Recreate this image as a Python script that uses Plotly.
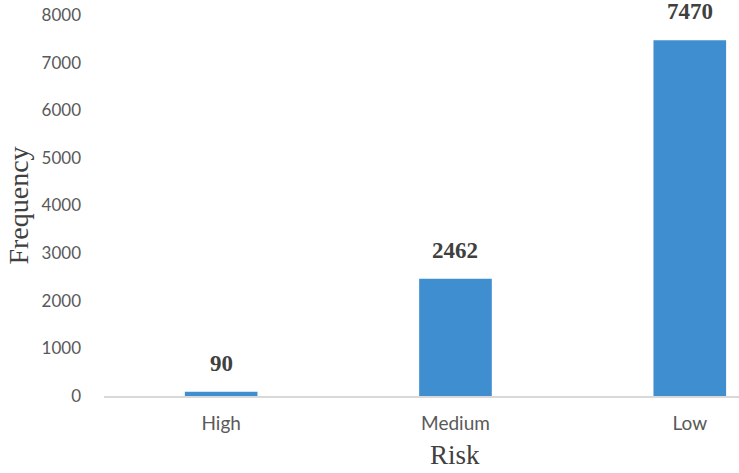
import plotly.graph_objects as go

categories = ["High", "Medium", "Low"]
frequency = [90, 2462, 7470]
y_ticks = [0, 1000, 2000, 3000, 4000, 5000, 6000, 7000, 8000]

fig = go.Figure(
    go.Bar(
        x=categories,
        y=frequency,
        width=0.31,
        marker=dict(color="#3F8FD0", line=dict(width=0)),
        hoverinfo="x+y",
    )
)

for c, v in zip(categories, frequency):
    fig.add_annotation(
        x=c, y=v, xref="x", yref="y",
        text=f"<b>{v}</b>",
        showarrow=False,
        yanchor="bottom",
        yshift=14,
        font=dict(family="Liberation Serif", size=23, color="#404040"),
    )

# x-axis title centred on the full category band (as in the cropped original)
fig.add_annotation(
    x=categories[1], y=0, xref="x", yref="paper",
    text="Risk", showarrow=False,
    yanchor="bottom", yshift=-76,
    font=dict(family="Liberation Serif", size=27, color="#404040"),
)

fig.update_layout(
    width=739,
    height=473,
    margin=dict(l=104, r=0, t=15, b=77),
    plot_bgcolor="white",
    paper_bgcolor="white",
    showlegend=False,
    xaxis=dict(
        range=[-0.5, 2.21],
        showgrid=False,
        showline=True,
        linecolor="#d9d9d9",
        linewidth=1.5,
        ticks="",
        tickfont=dict(family="Lato", size=19, color="#595959"),
        ticklabelstandoff=9,
        automargin=False,
    ),
    yaxis=dict(
        range=[0, 8000],
        tickvals=y_ticks,
        showgrid=False,
        showline=False,
        zeroline=False,
        ticks="",
        tickfont=dict(family="Lato", size=17, color="#595959"),
        ticklabelstandoff=22,
        title=dict(text="Frequency", font=dict(family="Liberation Serif", size=28, color="#404040"), standoff=4),
        automargin=False,
    ),
)

fig.write_html("out.html")
